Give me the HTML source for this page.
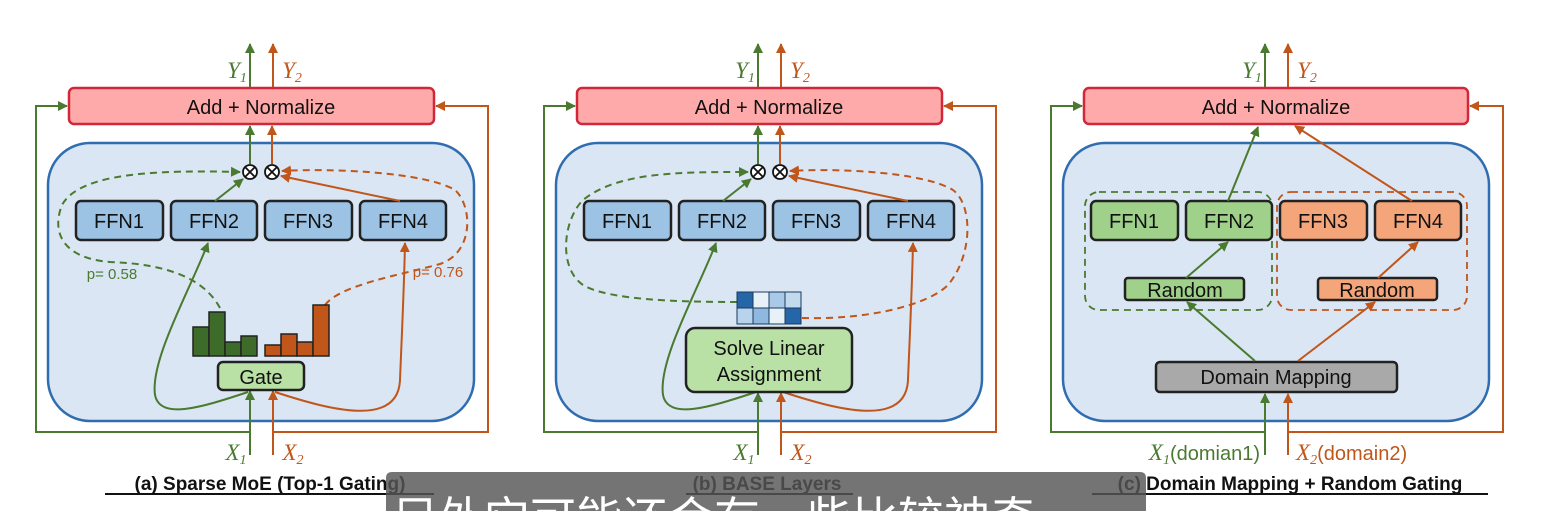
<!DOCTYPE html>
<html><head><meta charset="utf-8"><style>
html,body{margin:0;padding:0;background:#fff;width:1558px;height:511px;overflow:hidden;}
svg{display:block;}
.t{font-family:"Liberation Sans",sans-serif;font-size:20px;fill:#111;text-anchor:middle;}
.y{font-family:"Liberation Serif",serif;font-style:italic;font-size:23px;}
.cap{font-family:"Liberation Sans",sans-serif;font-weight:bold;font-size:19px;fill:#111;text-anchor:middle;}
</style></head><body>
<svg width="1558" height="511" viewBox="0 0 1558 511" xmlns="http://www.w3.org/2000/svg">
<defs>
<marker id="ag" viewBox="0 0 10 10" refX="9" refY="5" markerWidth="5" markerHeight="5" orient="auto"><path d="M0,0L10,5L0,10z" fill="#4a7a30"/></marker>
<marker id="ao" viewBox="0 0 10 10" refX="9" refY="5" markerWidth="5" markerHeight="5" orient="auto"><path d="M0,0L10,5L0,10z" fill="#c0561a"/></marker>
</defs>

<g id="pa">
<path d="M250,88 V44" stroke="#4a7a30" stroke-width="2" marker-end="url(#ag)"/>
<path d="M273,88 V44" stroke="#c0561a" stroke-width="2" marker-end="url(#ao)"/>
<text x="237" y="78" class="y" fill="#4a7a30" text-anchor="middle">Y<tspan font-size="14" dy="4">1</tspan></text>
<text x="292" y="78" class="y" fill="#c0561a" text-anchor="middle">Y<tspan font-size="14" dy="4">2</tspan></text>
<path d="M250,455 V432 H36 V106 H67" fill="none" stroke="#4a7a30" stroke-width="2" marker-end="url(#ag)"/>
<path d="M273,455 V432 H488 V106 H436" fill="none" stroke="#c0561a" stroke-width="2" marker-end="url(#ao)"/>
<rect x="48" y="143" width="426" height="278" rx="42" fill="#dae6f3" stroke="#2f6db0" stroke-width="2.5"/>
<rect x="69" y="88" width="365" height="36" rx="5" fill="#ffaaaa" stroke="#d0283a" stroke-width="2.5"/>
<text x="261" y="114" class="t">Add + Normalize</text>
<text x="236" y="460" class="y" fill="#4a7a30" text-anchor="middle">X<tspan font-size="14" dy="4">1</tspan></text>
<text x="293" y="460" class="y" fill="#c0561a" text-anchor="middle">X<tspan font-size="14" dy="4">2</tspan></text>
<text x="270" y="490" class="cap">(a) Sparse MoE (Top-1 Gating)</text>
<line x1="105" y1="494" x2="434" y2="494" stroke="#111" stroke-width="2"/>
<g stroke="#222" stroke-width="2.5" fill="#9cc3e4">
<rect x="76" y="201" width="87" height="39" rx="5"/><rect x="171" y="201" width="86" height="39" rx="5"/>
<rect x="265" y="201" width="87" height="39" rx="5"/><rect x="360" y="201" width="86" height="39" rx="5"/>
</g>
<text x="119" y="228" class="t">FFN1</text><text x="214" y="228" class="t">FFN2</text><text x="308" y="228" class="t">FFN3</text><text x="403" y="228" class="t">FFN4</text>
<g stroke="#111" stroke-width="1.8" fill="#fff">
<circle cx="250" cy="172" r="7"/><circle cx="272" cy="172" r="7"/>
<path d="M245,167L255,177M255,167L245,177M267,167L277,177M277,167L267,177"/></g>
<path d="M250,164 V126" stroke="#4a7a30" stroke-width="2" marker-end="url(#ag)"/>
<path d="M272,164 V126" stroke="#c0561a" stroke-width="2" marker-end="url(#ao)"/>
<path d="M215,201 L243,179" stroke="#4a7a30" stroke-width="2" marker-end="url(#ag)"/>
<path d="M400,201 L281,176" stroke="#c0561a" stroke-width="2" marker-end="url(#ao)"/>
</g>
<path d="M220,308 C205,280 170,264 110,262 C60,258 52,230 62,205 C80,172 160,170 240,172" fill="none" stroke="#4a7a30" stroke-width="2" stroke-dasharray="7,5" marker-end="url(#ag)"/>
<path d="M325,305 C340,285 400,275 440,264 C475,252 472,205 455,190 C425,172 330,168 282,171" fill="none" stroke="#c0561a" stroke-width="2" stroke-dasharray="7,5" marker-end="url(#ao)"/>
<path d="M248,392 C200,408 160,420 155,395 C150,360 190,290 208,243" fill="none" stroke="#4a7a30" stroke-width="2" marker-end="url(#ag)"/>
<path d="M275,392 C330,410 398,428 400,380 C402,330 404,290 405,243" fill="none" stroke="#c0561a" stroke-width="2" marker-end="url(#ao)"/>
<path d="M250,455 V391" stroke="#4a7a30" stroke-width="2" marker-end="url(#ag)"/>
<path d="M273,455 V391" stroke="#c0561a" stroke-width="2" marker-end="url(#ao)"/>
<g stroke="#222" stroke-width="1.5">
<rect x="193" y="327" width="16" height="29" fill="#3d6b2a"/><rect x="209" y="312" width="16" height="44" fill="#3d6b2a"/>
<rect x="225" y="342" width="16" height="14" fill="#3d6b2a"/><rect x="241" y="336" width="16" height="20" fill="#3d6b2a"/>
<rect x="265" y="345" width="16" height="11" fill="#c0561a"/><rect x="281" y="334" width="16" height="22" fill="#c0561a"/>
<rect x="297" y="342" width="16" height="14" fill="#c0561a"/><rect x="313" y="305" width="16" height="51" fill="#c0561a"/>
</g>
<rect x="218" y="362" width="86" height="28" rx="5" fill="#b9e0a5" stroke="#222" stroke-width="2.5"/>
<text x="261" y="384" class="t">Gate</text>
<text x="112" y="279" font-family="Liberation Sans,sans-serif" font-size="15" fill="#4a7a30" text-anchor="middle">p= 0.58</text>
<text x="438" y="277" font-family="Liberation Sans,sans-serif" font-size="15" fill="#c0561a" text-anchor="middle">p= 0.76</text>

<g transform="translate(508,0)">
<path d="M250,88 V44" stroke="#4a7a30" stroke-width="2" marker-end="url(#ag)"/>
<path d="M273,88 V44" stroke="#c0561a" stroke-width="2" marker-end="url(#ao)"/>
<text x="237" y="78" class="y" fill="#4a7a30" text-anchor="middle">Y<tspan font-size="14" dy="4">1</tspan></text>
<text x="292" y="78" class="y" fill="#c0561a" text-anchor="middle">Y<tspan font-size="14" dy="4">2</tspan></text>
<path d="M250,455 V432 H36 V106 H67" fill="none" stroke="#4a7a30" stroke-width="2" marker-end="url(#ag)"/>
<path d="M273,455 V432 H488 V106 H436" fill="none" stroke="#c0561a" stroke-width="2" marker-end="url(#ao)"/>
<rect x="48" y="143" width="426" height="278" rx="42" fill="#dae6f3" stroke="#2f6db0" stroke-width="2.5"/>
<rect x="69" y="88" width="365" height="36" rx="5" fill="#ffaaaa" stroke="#d0283a" stroke-width="2.5"/>
<text x="261" y="114" class="t">Add + Normalize</text>
<text x="236" y="460" class="y" fill="#4a7a30" text-anchor="middle">X<tspan font-size="14" dy="4">1</tspan></text>
<text x="293" y="460" class="y" fill="#c0561a" text-anchor="middle">X<tspan font-size="14" dy="4">2</tspan></text>
<g stroke="#222" stroke-width="2.5" fill="#9cc3e4">
<rect x="76" y="201" width="87" height="39" rx="5"/><rect x="171" y="201" width="86" height="39" rx="5"/>
<rect x="265" y="201" width="87" height="39" rx="5"/><rect x="360" y="201" width="86" height="39" rx="5"/>
</g>
<text x="119" y="228" class="t">FFN1</text><text x="214" y="228" class="t">FFN2</text><text x="308" y="228" class="t">FFN3</text><text x="403" y="228" class="t">FFN4</text>
<g stroke="#111" stroke-width="1.8" fill="#fff">
<circle cx="250" cy="172" r="7"/><circle cx="272" cy="172" r="7"/>
<path d="M245,167L255,177M255,167L245,177M267,167L277,177M277,167L267,177"/></g>
<path d="M250,164 V126" stroke="#4a7a30" stroke-width="2" marker-end="url(#ag)"/>
<path d="M272,164 V126" stroke="#c0561a" stroke-width="2" marker-end="url(#ao)"/>
<path d="M215,201 L243,179" stroke="#4a7a30" stroke-width="2" marker-end="url(#ag)"/>
<path d="M400,201 L281,176" stroke="#c0561a" stroke-width="2" marker-end="url(#ao)"/>
<path d="M229,302 C170,302 100,300 75,285 C50,268 55,220 75,200 C110,172 170,172 240,172" fill="none" stroke="#4a7a30" stroke-width="2" stroke-dasharray="7,5" marker-end="url(#ag)"/>
<path d="M294,318 C360,320 420,305 440,285 C465,255 465,205 445,190 C415,172 330,168 282,171" fill="none" stroke="#c0561a" stroke-width="2" stroke-dasharray="7,5" marker-end="url(#ao)"/>
<path d="M248,392 C200,408 160,420 155,395 C150,360 190,290 208,243" fill="none" stroke="#4a7a30" stroke-width="2" marker-end="url(#ag)"/>
<path d="M275,392 C330,410 398,428 400,380 C402,330 404,290 405,243" fill="none" stroke="#c0561a" stroke-width="2" marker-end="url(#ao)"/>
<path d="M250,455 V393" stroke="#4a7a30" stroke-width="2" marker-end="url(#ag)"/>
<path d="M273,455 V393" stroke="#c0561a" stroke-width="2" marker-end="url(#ao)"/>
<g stroke="#1b3a5a" stroke-width="1">
<rect x="229" y="292" width="16" height="16" fill="#2566a8"/><rect x="245" y="292" width="16" height="16" fill="#e8f0f8"/>
<rect x="261" y="292" width="16" height="16" fill="#a9c9e8"/><rect x="277" y="292" width="16" height="16" fill="#c3daee"/>
<rect x="229" y="308" width="16" height="16" fill="#b8d3ec"/><rect x="245" y="308" width="16" height="16" fill="#8fb8e0"/>
<rect x="261" y="308" width="16" height="16" fill="#e8f0f8"/><rect x="277" y="308" width="16" height="16" fill="#2566a8"/>
</g>
<rect x="178" y="328" width="166" height="64" rx="9" fill="#b9e0a5" stroke="#222" stroke-width="2.5"/>
<text x="261" y="355" class="t">Solve Linear</text>
<text x="261" y="381" class="t">Assignment</text>
</g>
<text x="767" y="490" class="cap">(b) BASE Layers</text>
<line x1="686" y1="494" x2="853" y2="494" stroke="#111" stroke-width="2"/>

<g transform="translate(1015,0)">
<path d="M250,88 V44" stroke="#4a7a30" stroke-width="2" marker-end="url(#ag)"/>
<path d="M273,88 V44" stroke="#c0561a" stroke-width="2" marker-end="url(#ao)"/>
<text x="237" y="78" class="y" fill="#4a7a30" text-anchor="middle">Y<tspan font-size="14" dy="4">1</tspan></text>
<text x="292" y="78" class="y" fill="#c0561a" text-anchor="middle">Y<tspan font-size="14" dy="4">2</tspan></text>
<path d="M250,455 V432 H36 V106 H67" fill="none" stroke="#4a7a30" stroke-width="2" marker-end="url(#ag)"/>
<path d="M273,455 V432 H488 V106 H455" fill="none" stroke="#c0561a" stroke-width="2" marker-end="url(#ao)"/>
<rect x="48" y="143" width="426" height="278" rx="42" fill="#dae6f3" stroke="#2f6db0" stroke-width="2.5"/>
<rect x="69" y="88" width="384" height="36" rx="5" fill="#ffaaaa" stroke="#d0283a" stroke-width="2.5"/>
<text x="261" y="114" class="t">Add + Normalize</text>
<text x="245" y="460" class="y" fill="#4a7a30" text-anchor="end">X<tspan font-size="14" dy="4">1</tspan><tspan font-family="Liberation Sans,sans-serif" font-style="normal" font-size="20" dy="-4">(domian1)</tspan></text>
<text x="281" y="460" class="y" fill="#c0561a" text-anchor="start">X<tspan font-size="14" dy="4">2</tspan><tspan font-family="Liberation Sans,sans-serif" font-style="normal" font-size="20" dy="-4">(domain2)</tspan></text>
<rect x="70" y="192" width="187" height="118" rx="14" fill="none" stroke="#4a7a30" stroke-width="1.8" stroke-dasharray="7,5"/>
<rect x="262" y="192" width="190" height="118" rx="14" fill="none" stroke="#c0561a" stroke-width="1.8" stroke-dasharray="7,5"/>
<g stroke="#222" stroke-width="2.5">
<rect x="76" y="201" width="87" height="39" rx="5" fill="#9fd18a"/><rect x="171" y="201" width="86" height="39" rx="5" fill="#9fd18a"/>
<rect x="265" y="201" width="87" height="39" rx="5" fill="#f4a57a"/><rect x="360" y="201" width="86" height="39" rx="5" fill="#f4a57a"/>
<rect x="110" y="278" width="119" height="22" rx="3" fill="#9fd18a"/><rect x="303" y="278" width="119" height="22" rx="3" fill="#f4a57a"/>
<rect x="141" y="362" width="241" height="30" rx="4" fill="#a9a9a9"/>
</g>
<text x="119" y="228" class="t">FFN1</text><text x="214" y="228" class="t">FFN2</text><text x="308" y="228" class="t">FFN3</text><text x="403" y="228" class="t">FFN4</text>
<text x="170" y="297" class="t" font-size="19">Random</text><text x="362" y="297" class="t" font-size="19">Random</text>
<text x="261" y="384" class="t">Domain Mapping</text>
<path d="M240,361 L172,302" stroke="#4a7a30" stroke-width="2" marker-end="url(#ag)"/>
<path d="M283,361 L360,302" stroke="#c0561a" stroke-width="2" marker-end="url(#ao)"/>
<path d="M171,278 L213,242" stroke="#4a7a30" stroke-width="2" marker-end="url(#ag)"/>
<path d="M363,278 L403,242" stroke="#c0561a" stroke-width="2" marker-end="url(#ao)"/>
<path d="M213,201 L243,127" stroke="#4a7a30" stroke-width="2" marker-end="url(#ag)"/>
<path d="M397,201 L280,126" stroke="#c0561a" stroke-width="2" marker-end="url(#ao)"/>
<path d="M250,455 V394" stroke="#4a7a30" stroke-width="2" marker-end="url(#ag)"/>
<path d="M273,455 V394" stroke="#c0561a" stroke-width="2" marker-end="url(#ao)"/>
</g>
<text x="1290" y="490" class="cap">(c) Domain Mapping + Random Gating</text>
<line x1="1092" y1="494" x2="1488" y2="494" stroke="#111" stroke-width="2"/>

<path d="M386,511 V478 Q386,472 392,472 H1140 Q1146,472 1146,478 V511 Z" fill="rgba(85,85,85,0.82)"/>
<text x="392" y="535" font-family="'Liberation Sans','Noto Sans CJK SC',sans-serif" font-size="46" fill="#fff">另外它可能还会有一些比较神奇</text>
</svg>
</body></html>
